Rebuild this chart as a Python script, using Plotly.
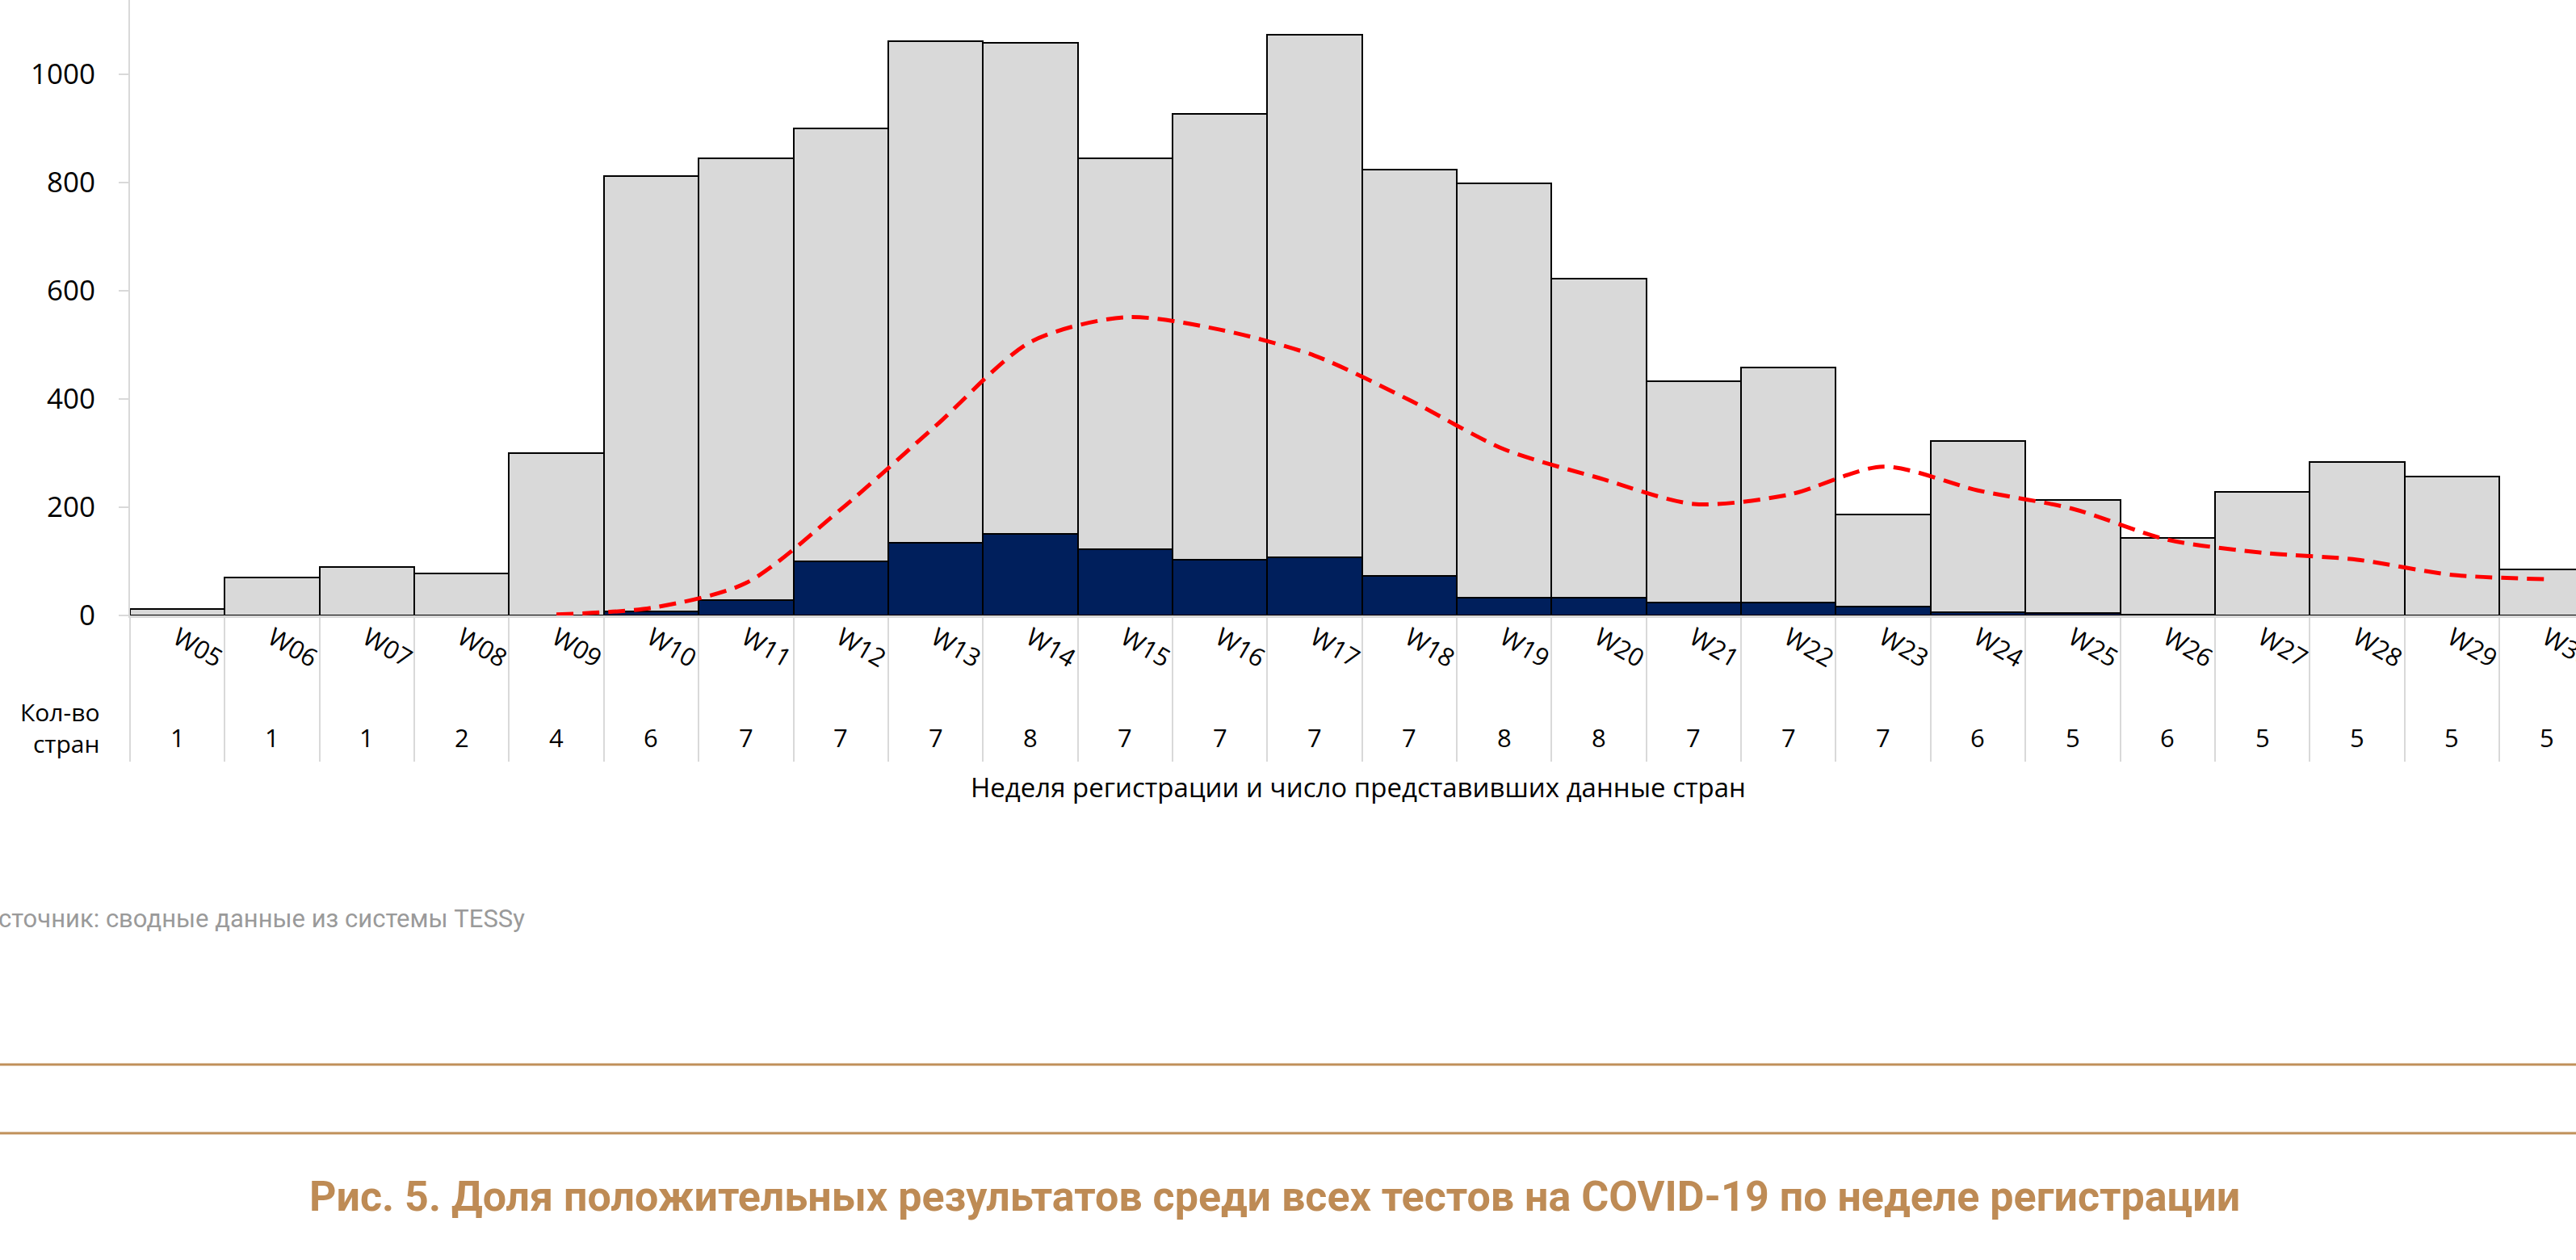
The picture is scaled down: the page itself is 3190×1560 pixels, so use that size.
import plotly.graph_objects as go

# Data
weeks = ["W05", "W06", "W07", "W08", "W09", "W10", "W11", "W12", "W13", "W14", "W15", "W16", "W17",
         "W18", "W19", "W20", "W21", "W22", "W23", "W24", "W25", "W26", "W27", "W28", "W29", "W30"]
total_tests = [12, 70, 90, 77, 300, 811, 845, 900, 1061, 1058, 845, 926, 1073,
               823, 799, 622, 433, 458, 187, 323, 213, 143, 229, 283, 257, 85]
positive_tests = [0, 0, 0, 0, 0, 8, 29, 100, 135, 151, 123, 103, 107,
                  73, 33, 33, 24, 24, 16, 6, 5, 1, 0, 0, 0, 0]
positivity_line = [None, None, None, None, 2, 14, 60, 196, 350, 505, 551, 528, 480,
                   398, 307, 254, 206, 223, 275, 231, 197, 140, 116, 103, 75, 67]
countries = [1, 1, 1, 2, 4, 6, 7, 7, 7, 8, 7, 7, 7, 7, 8, 8, 7, 7, 7, 6, 5, 6, 5, 5, 5, 5]

W, H = 3190, 1560
PLOT_L, PLOT_B = 161, 762


def px_x(x):
    return (x - PLOT_L) / (W - PLOT_L)


def px_y(y):
    return (PLOT_B - y) / PLOT_B


fig = go.Figure()
fig.add_trace(go.Bar(x=weeks, y=total_tests, width=1, marker=dict(color="#D9D9D9", line=dict(color="#000000", width=2))))
fig.add_trace(go.Bar(x=weeks, y=positive_tests, width=1, marker=dict(color="#001F5C", line=dict(color="#000000", width=2))))
fig.add_trace(go.Scatter(x=weeks, y=positivity_line, mode="lines",
                         line=dict(color="#FF0000", width=5, dash="21px,11px", shape="spline", smoothing=0.8)))

annotations = []
for wk, n in zip(weeks, countries):
    annotations.append(dict(x=wk, xref="x", y=px_y(913), yref="paper", xanchor="center", yanchor="middle",
                            text=str(n), showarrow=False,
                            font=dict(family="Open Sans", size=31, color="#000000")))
annotations += [
    dict(x=px_x(125), y=px_y(901), xref="paper", yref="paper", xanchor="right", yanchor="middle", align="right",
         text="Кол-во<br>стран", showarrow=False, font=dict(family="Open Sans", size=30, color="#000000")),
    dict(x=px_x(1682), y=px_y(974), xref="paper", yref="paper", xanchor="center", yanchor="middle",
         text="Неделя регистрации и число представивших данные стран", showarrow=False,
         font=dict(family="Open Sans", size=33, color="#000000")),
    dict(x=px_x(-26), y=px_y(1137), xref="paper", yref="paper", xanchor="left", yanchor="middle",
         text="Источник: сводные данные из системы TESSy", showarrow=False,
         font=dict(family="Roboto", size=31, color="#9A9A9A")),
    dict(x=px_x(1578), y=px_y(1481), xref="paper", yref="paper", xanchor="center", yanchor="middle",
         text="<b>Рис. 5. Доля положительных результатов среди всех тестов на COVID-19 по неделе регистрации</b>",
         showarrow=False, font=dict(family="Roboto", size=52, color="#BE8B55")),
]

shapes = [
    dict(type="line", xref="paper", yref="paper", x0=px_x(0), x1=1, y0=px_y(1318), y1=px_y(1318),
         line=dict(color="#C0905A", width=3)),
    dict(type="line", xref="paper", yref="paper", x0=px_x(0), x1=1, y0=px_y(1403), y1=px_y(1403),
         line=dict(color="#C0905A", width=3)),
]

fig.update_layout(
    width=W, height=H,
    margin=dict(l=PLOT_L, r=0, t=0, b=H - PLOT_B, autoexpand=False),
    barmode="overlay", bargap=0,
    showlegend=False,
    plot_bgcolor="#FFFFFF", paper_bgcolor="#FFFFFF",
    annotations=annotations, shapes=shapes,
    xaxis=dict(type="category", range=[-0.5, 25.31], showgrid=False, automargin=False,
               showline=True, linecolor="#D9D9D9", linewidth=3,
               ticks="outside", tickson="boundaries", ticklen=178, tickcolor="#D9D9D9", tickwidth=2,
               tickangle=30, ticklabelstandoff=-5,
               tickfont=dict(family="Open Sans", size=31, color="#000000")),
    yaxis=dict(range=[0, 1137], showgrid=False, zeroline=False, automargin=False,
               showline=True, linecolor="#D9D9D9", linewidth=2,
               tickvals=[0, 200, 400, 600, 800, 1000],
               ticks="outside", ticklen=12, tickcolor="#D9D9D9", tickwidth=2,
               ticklabelstandoff=22,
               tickfont=dict(family="Open Sans", size=35, color="#000000")),
)

fig.write_html("out.html", config={"displayModeBar": False},
               post_script="document.body.style.margin='0';document.body.style.overflow='hidden';")
